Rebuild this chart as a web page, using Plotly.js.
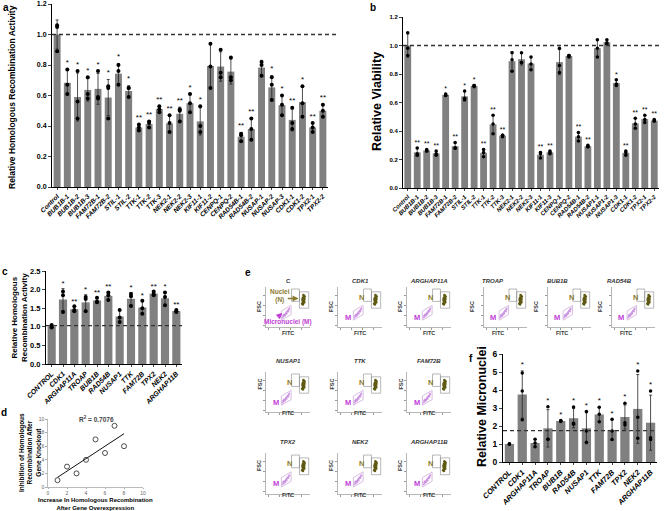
<!DOCTYPE html>
<html>
<head>
<meta charset="utf-8">
<script src="https://cdn.plot.ly/plotly-3.0.1.min.js"></script>
<style>
html, body { margin: 0; padding: 0; background: #fff; }
#chart { width: 667px; height: 511px; }
</style>
</head>
<body>
<div id="chart"></div>
<script>
// panel a - HR activity after knockout
const aCats = ["Control","BUB1B-1","BUB1B-2","BUB1B-3","FAM72B-1","FAM72B-2","STIL-1","STIL-2","TTK-1","TTK-2","TTK-3","NEK2-1","NEK2-2","NEK2-3","KIF11-1","KIF11-2","CENPQ-1","CENPQ-2","RAD54B-1","RAD54B-2","NUSAP-1","NUSAP-2","NUSAP-3","CDK1-1","CDK1-2","TPX2-1","TPX2-2"];
const aRep1 = [1.06,0.77,0.76,0.72,0.76,0.66,0.80,0.65,0.41,0.43,0.53,0.47,0.51,0.61,0.53,0.94,0.90,0.85,0.35,0.45,0.82,0.72,0.60,0.52,0.66,0.42,0.54];
const aRep2 = [1.05,0.67,0.56,0.61,0.58,0.65,0.76,0.65,0.39,0.42,0.51,0.42,0.50,0.55,0.40,0.79,0.75,0.72,0.34,0.38,0.80,0.67,0.54,0.42,0.55,0.39,0.50];
const aRep3 = [0.89,0.61,0.45,0.58,0.59,0.45,0.67,0.59,0.37,0.39,0.49,0.36,0.43,0.49,0.36,0.65,0.72,0.70,0.30,0.31,0.73,0.57,0.47,0.38,0.46,0.36,0.46];
const aSig = ["","*","*","*","*","*","*","*","**","**","**","**","**","*","*","","","","**","**","","*","*","**","*","**","**"];

// panel b - viability
const bCats = ["Control","BUB1B-1","BUB1B-2","BUB1B-3","FAM72B-1","FAM72B-2","STIL-1","STIL-2","TTK-1","TTK-2","TTK-3","NEK2-1","NEK2-2","NEK2-3","KIF11-1","KIF11-3","CENPQ-1","CENPQ-2","RAD54B-1","RAD54B-2","NUSAP1-1","NUSAP1-2","NUSAP1-3","CDK1-1","CDK1-2","TPX2-1","TPX2-2"];
const bRep1 = [1.09,0.28,0.27,0.26,0.66,0.32,0.68,0.72,0.27,0.51,0.37,0.95,0.95,0.92,0.25,0.26,0.98,0.93,0.39,0.30,1.04,1.04,0.76,0.26,0.49,0.51,0.48];
const bRep2 = [0.98,0.24,0.26,0.24,0.65,0.28,0.63,0.72,0.25,0.45,0.37,0.90,0.88,0.87,0.24,0.25,0.86,0.93,0.36,0.29,0.98,1.02,0.73,0.25,0.45,0.48,0.47];
const bRep3 = [0.93,0.23,0.26,0.23,0.65,0.28,0.62,0.71,0.22,0.38,0.36,0.82,0.88,0.83,0.21,0.24,0.81,0.92,0.33,0.29,0.92,1.01,0.72,0.23,0.42,0.46,0.47];
const bSig = ["","**","**","**","*","**","*","*","**","**","**","","","","**","**","","","**","**","","","*","**","**","**","**"];

// panel c - HR activity after overexpression
const cCats = ["CONTROL","CDK1","ARGHAP11A","TROAP","BUB1B","RAD54B","NUSAP1","TTK","FAM72B","TPX2","NEK2","ARGHAP11B"];
const cRep1 = [1.05,1.95,1.55,1.80,1.78,1.92,1.45,1.88,1.70,1.95,1.92,1.45];
const cRep2 = [1.00,1.85,1.45,1.75,1.68,1.85,1.25,1.82,1.50,1.88,1.80,1.42];
const cRep3 = [0.98,1.40,1.42,1.42,1.66,1.72,1.13,1.56,1.35,1.85,1.58,1.40];
const cSig = ["","*","**","*","**","**","","*","*","**","*","**"];
const cRef = 1.03;

// panel d - knockout vs overexpression
const dX = [1,2,3,4,5,6,7,8];
const dY = [1,3,2,4,7,5,9,6];

// panel e - flow cytometry samples and event clouds
const eSamples = ["C","CDK1","ARGHAP11A","TROAP","BUB1B","RAD54B","NUSAP1","TTK","FAM72B","TPX2","NEK2","ARGHAP11B"];
const nucX = [0.82,0.84,0.86,0.83,0.85,0.87,0.84,0.86,0.88,0.83,0.85,0.87,0.86,0.84,0.85,0.87];
const nucY = [0.58,0.62,0.66,0.66,0.70,0.72,0.74,0.78,0.76,0.70,0.60,0.68,0.64,0.56,0.80,0.62];
const micX = [0.38,0.40,0.42,0.44,0.46,0.48,0.50,0.52,0.41,0.45,0.49,0.43,0.47,0.53,0.39,0.51];
const micY = [0.24,0.27,0.30,0.32,0.36,0.38,0.41,0.44,0.31,0.34,0.40,0.28,0.33,0.46,0.29,0.39];

// panel f - micronuclei
const fCats = ["CONTROL","CDK1","ARGHAP11A","TROAP","BUB1B","RAD54B","NUSAP1","TTK","FAM72B","TPX2","NEK2","ARGHAP11B"];
const fRep1 = [1.0,4.95,1.27,3.07,2.30,3.05,2.80,3.04,2.37,3.27,5.05,3.95];
const fRep2 = [1.0,3.95,1.05,1.27,2.28,2.15,1.72,2.65,1.72,2.18,2.48,1.35];
const fRep3 = [1.0,2.35,0.85,1.27,2.25,2.10,1.10,2.24,1.25,2.05,1.32,1.25];
const fSig = ["","*","","*","*","*","*","*","*","*","*","*"];
const fRef = 1.74;

const W = 667, H = 511;
const px = x => x / W;
const py = y => 1 - y / H;
const FONT = "Liberation Sans, Arial, sans-serif";
const OLIVE = "#8a7a2e", MAGENTA = "#c03fd6";

const traces = [];
const annotations = [];
const shapes = [];

function addBars(cats, r1, r2, r3, sig, xa, ya, opt) {
    const xs = cats.map((_, i) => i);
    const mean = xs.map(i => (r1[i] + r2[i] + r3[i]) / 3);
    const sd = xs.map(i => {
        const m = mean[i];
        return Math.sqrt(((r1[i] - m) ** 2 + (r2[i] - m) ** 2 + (r3[i] - m) ** 2) / 2);
    });
    traces.push({
        type: 'bar', x: xs, y: mean, xaxis: xa, yaxis: ya, width: opt.bw,
        marker: { color: '#808080' },
        error_y: { type: 'data', array: sd, visible: true, color: '#222', thickness: 0.8, width: 1.5 },
        hoverinfo: 'skip'
    });
    [r1, r2, r3].forEach(r => traces.push({
        type: 'scatter', mode: 'markers', x: xs, y: r, xaxis: xa, yaxis: ya,
        marker: { color: '#000', size: opt.ds }, hoverinfo: 'skip'
    }));
    const top = xs.map(i => Math.max(mean[i] + sd[i], r1[i], r2[i], r3[i]) + opt.pad);
    traces.push({
        type: 'scatter', mode: 'text', x: xs, y: top, text: sig, textposition: 'top center',
        textfont: { size: opt.ss, color: '#000', family: FONT },
        xaxis: xa, yaxis: ya, cliponaxis: false, hoverinfo: 'skip'
    });
}

function catAxis(x0, x1, anchor, cats, size) {
    return {
        domain: [px(x0), px(x1)], anchor: anchor, range: [-0.5, cats.length - 0.5],
        tickvals: cats.map((_, i) => i), ticktext: cats, tickangle: -45,
        tickfont: { size: size, weight: 'bold', style: 'italic', family: FONT },
        showline: true, linecolor: '#000', linewidth: 1, ticks: 'outside', ticklen: 2,
        showgrid: false, zeroline: false, fixedrange: true
    };
}

function valAxis(top, bottom, anchor, range, dtick, size, fmt) {
    return {
        domain: [py(bottom), py(top)], anchor: anchor, range: range, dtick: dtick, tick0: 0,
        tickformat: fmt, tickfont: { size: size, weight: 'bold', family: FONT },
        showline: true, linecolor: '#000', linewidth: 1, ticks: 'outside', ticklen: 3,
        showgrid: false, zeroline: false, fixedrange: true
    };
}

addBars(aCats, aRep1, aRep2, aRep3, aSig, 'x', 'y', { bw: 0.68, ds: 4, pad: 0.015, ss: 8 });
addBars(bCats, bRep1, bRep2, bRep3, bSig, 'x2', 'y2', { bw: 0.72, ds: 3.5, pad: 0.01, ss: 7 });
addBars(cCats, cRep1, cRep2, cRep3, cSig, 'x3', 'y3', { bw: 0.72, ds: 4, pad: 0.02, ss: 8 });
addBars(fCats, fRep1, fRep2, fRep3, fSig, 'x5', 'y5', { bw: 0.72, ds: 3.5, pad: 0.1, ss: 8 });

// panel d scatter + least squares line
const n = dX.length;
const mx = dX.reduce((s, v) => s + v, 0) / n;
const my = dY.reduce((s, v) => s + v, 0) / n;
let sxy = 0, sxx = 0, syy = 0;
dX.forEach((v, i) => { sxy += (v - mx) * (dY[i] - my); sxx += (v - mx) ** 2; syy += (dY[i] - my) ** 2; });
const slope = sxy / sxx, icpt = my - slope * mx;
const r2 = (sxy * sxy) / (sxx * syy);
const xmin = Math.min(...dX), xmax = Math.max(...dX);
traces.push({
    type: 'scatter', mode: 'lines', x: [xmin, xmax], y: [icpt + slope * xmin, icpt + slope * xmax],
    xaxis: 'x4', yaxis: 'y4', line: { color: '#111', width: 1 }, hoverinfo: 'skip'
});
traces.push({
    type: 'scatter', mode: 'markers', x: dX, y: dY, xaxis: 'x4', yaxis: 'y4',
    marker: { symbol: 'circle-open', size: 5, color: '#222', line: { width: 0.8 } }, hoverinfo: 'skip'
});

const layout = {
    width: W, height: H, margin: { l: 0, r: 0, t: 0, b: 0 }, showlegend: false,
    paper_bgcolor: '#fff', plot_bgcolor: 'rgba(0,0,0,0)',
    font: { family: FONT, color: '#000' },
    xaxis: catAxis(52, 328, 'y', aCats, 6.5),
    yaxis: valAxis(4, 187, 'x', [0, 1.2], 0.2, 7, '.1f'),
    xaxis2: catAxis(403, 659, 'y2', bCats, 6),
    yaxis2: valAxis(17, 188, 'x2', [0, 1.2], 0.2, 6, '.1f'),
    xaxis3: catAxis(46, 182, 'y3', cCats, 7),
    yaxis3: valAxis(271, 364, 'x3', [0, 2.5], 0.5, 7.5, '.1f'),
    xaxis5: catAxis(503, 657, 'y5', fCats, 7.5),
    yaxis5: valAxis(354, 462, 'x5', [0, 6], 1, 8.5, 'd'),
    xaxis4: {
        domain: [px(48), px(143)], anchor: 'y4', range: [0, 10], dtick: 2,
        tickfont: { size: 5, color: '#666' }, showline: true, linecolor: '#aaa', linewidth: 0.8,
        ticks: 'outside', ticklen: 1, tickcolor: '#aaa', showgrid: false, zeroline: false
    },
    yaxis4: {
        domain: [py(487), py(419)], anchor: 'x4', range: [0, 10], dtick: 2,
        tickfont: { size: 5, color: '#666' }, showline: true, linecolor: '#aaa', linewidth: 0.8,
        ticks: 'outside', ticklen: 2, tickcolor: '#aaa', showgrid: false, zeroline: false
    }
};

// dashed reference lines
shapes.push({ type: 'line', xref: 'x domain', yref: 'y', x0: 0, x1: 1.03, y0: 1, y1: 1, line: { color: '#333', width: 1.3, dash: '4px,3px' } });
shapes.push({ type: 'line', xref: 'x2 domain', yref: 'y2', x0: 0, x1: 1.01, y0: 1, y1: 1, line: { color: '#333', width: 1.3, dash: '4px,3px' } });
shapes.push({ type: 'line', xref: 'x3 domain', yref: 'y3', x0: 0, x1: 1, y0: cRef, y1: cRef, line: { color: '#333', width: 1.3, dash: '4px,3px' } });
shapes.push({ type: 'line', xref: 'x5 domain', yref: 'y5', x0: 0, x1: 1, y0: fRef, y1: fRef, line: { color: '#333', width: 1.3, dash: '4px,3px' } });

// panel e small flow plots
const eCols = [[266, 310], [338, 382], [407, 451], [484, 527], [548, 591], [612, 655]];
const eRows = [[287, 327], [372, 412], [453, 494]];
const eGrid = [[0, 0], [0, 1], [0, 2], [0, 3], [0, 4], [0, 5], [1, 0], [1, 1], [1, 2], [2, 0], [2, 1], [2, 2]];
eSamples.forEach((name, k) => {
    const id = 6 + k;
    const xa = 'x' + id, ya = 'y' + id;
    const [r, c] = eGrid[k];
    const [x0, x1] = eCols[c], [y0, y1] = eRows[r];
    layout['xaxis' + id] = {
        domain: [px(x0), px(x1)], anchor: ya, range: [0, 1], tickvals: [0.05, 0.3, 0.55, 0.8],
        showticklabels: false, showline: true, linecolor: '#999', linewidth: 0.7,
        ticks: 'outside', ticklen: 2, tickcolor: '#999', showgrid: false, zeroline: false
    };
    layout['yaxis' + id] = {
        domain: [py(y1), py(y0)], anchor: xa, range: [0, 1], tickvals: [0.05, 0.3, 0.55, 0.8],
        showticklabels: false, showline: true, linecolor: '#999', linewidth: 0.7,
        ticks: 'outside', ticklen: 2, tickcolor: '#999', showgrid: false, zeroline: false
    };
    traces.push({ type: 'scatter', mode: 'markers', x: micX, y: micY, xaxis: xa, yaxis: ya,
        marker: { color: '#c98ee0', size: 2, opacity: 0.85 }, hoverinfo: 'skip' });
    traces.push({ type: 'scatter', mode: 'markers', x: nucX, y: nucY, xaxis: xa, yaxis: ya,
        marker: { color: '#5f5a14', size: 2.5 }, hoverinfo: 'skip' });
    shapes.push({ type: 'path', xref: xa, yref: ya, path: 'M 0.35,0.17 L 0.35,0.40 L 0.57,0.54 L 0.57,0.31 Z',
        line: { color: '#c9a0d8', width: 0.7 } });
    shapes.push({ type: 'rect', xref: xa, yref: ya, x0: 0.58, x1: 0.76, y0: 0.64, y1: 0.95, line: { color: '#888', width: 0.6 } });
    shapes.push({ type: 'rect', xref: xa, yref: ya, x0: 0.76, x1: 0.97, y0: 0.47, y1: 0.88, line: { color: '#888', width: 0.6 } });

    annotations.push({ xref: 'paper', yref: 'paper', x: px((x0 + x1) / 2), y: py(y0 - 6), text: name, showarrow: false,
        font: { size: 6, weight: 'bold', style: name === 'C' ? 'normal' : 'italic', color: '#333' } });
    annotations.push({ xref: 'paper', yref: 'paper', x: px(x0 - 7), y: py((y0 + y1) / 2), text: 'FSC', textangle: -90,
        showarrow: false, font: { size: 5.5, weight: 'bold', color: '#333' } });
    annotations.push({ xref: 'paper', yref: 'paper', x: px((x0 + x1) / 2), y: py(y1 + 6), text: 'FITC',
        showarrow: false, font: { size: 5.5, weight: 'bold', color: '#333' } });
    if (name === 'C') {
        annotations.push({ xref: xa, yref: ya, x: 0.31, y: 0.77, text: 'Nuclei<br>(N)', showarrow: false,
            font: { size: 6.5, weight: 'bold', color: OLIVE } });
        annotations.push({ xref: xa, yref: ya, axref: xa, ayref: ya, x: 0.74, y: 0.71, ax: 0.46, ay: 0.71, text: '',
            showarrow: true, arrowhead: 2, arrowsize: 0.8, arrowwidth: 1.5, arrowcolor: OLIVE });
        annotations.push({ xref: xa, yref: ya, x: 0.5, y: 0.12, text: 'Micronuclei (M)', showarrow: false,
            font: { size: 6.5, weight: 'bold', color: MAGENTA } });
        annotations.push({ xref: xa, yref: ya, axref: xa, ayref: ya, x: 0.37, y: 0.35, ax: 0.24, ay: 0.22, text: '',
            showarrow: true, arrowhead: 2, arrowsize: 0.8, arrowwidth: 1.5, arrowcolor: MAGENTA });
    } else {
        annotations.push({ xref: xa, yref: ya, x: 0.54, y: 0.74, text: 'N', showarrow: false,
            font: { size: 7.5, weight: 'bold', color: OLIVE } });
        annotations.push({ xref: xa, yref: ya, x: 0.22, y: 0.25, text: 'M', showarrow: false,
            font: { size: 7.5, weight: 'bold', color: MAGENTA } });
    }
});

// axis titles and panel letters
const tt = (x, y, text, size, angle) => annotations.push({ xref: 'paper', yref: 'paper', x: px(x), y: py(y), text: text,
    textangle: angle || 0, showarrow: false, xanchor: 'center', yanchor: 'middle', font: { size: size, weight: 'bold', color: '#000' } });
tt(12, 97, 'Relative Homologous Recombination Activity', 8.5, -90);
tt(377, 101, 'Relative Viability', 12.5, -90);
tt(19, 318, 'Relative Homologous<br>Recombination Activity', 8, -90);
tt(30, 453, 'Inhibition of Homologous<br>Recombination After<br>Gene Knockout', 6.5, -90);
tt(96, 504, 'Increase In Homologous Recombination<br>After Gene Overexpression', 6, 0);
tt(482, 407, 'Relative Micronuclei', 12.5, -90);
annotations.push({ xref: 'paper', yref: 'paper', x: px(77), y: py(425), text: 'R<sup>2</sup> = ' + r2.toFixed(4),
    showarrow: false, font: { size: 6.5, weight: 'bold', color: '#444' } });
[['a', 6, 7], ['b', 373, 7], ['c', 5, 271], ['d', 4, 412], ['e', 248, 272], ['f', 471, 358]].forEach(([t, x, y]) =>
    tt(x, y, t, 10, 0));

layout.shapes = shapes;
layout.annotations = annotations;

Plotly.newPlot('chart', traces, layout, { staticPlot: true, displayModeBar: false });
</script>
</body>
</html>
